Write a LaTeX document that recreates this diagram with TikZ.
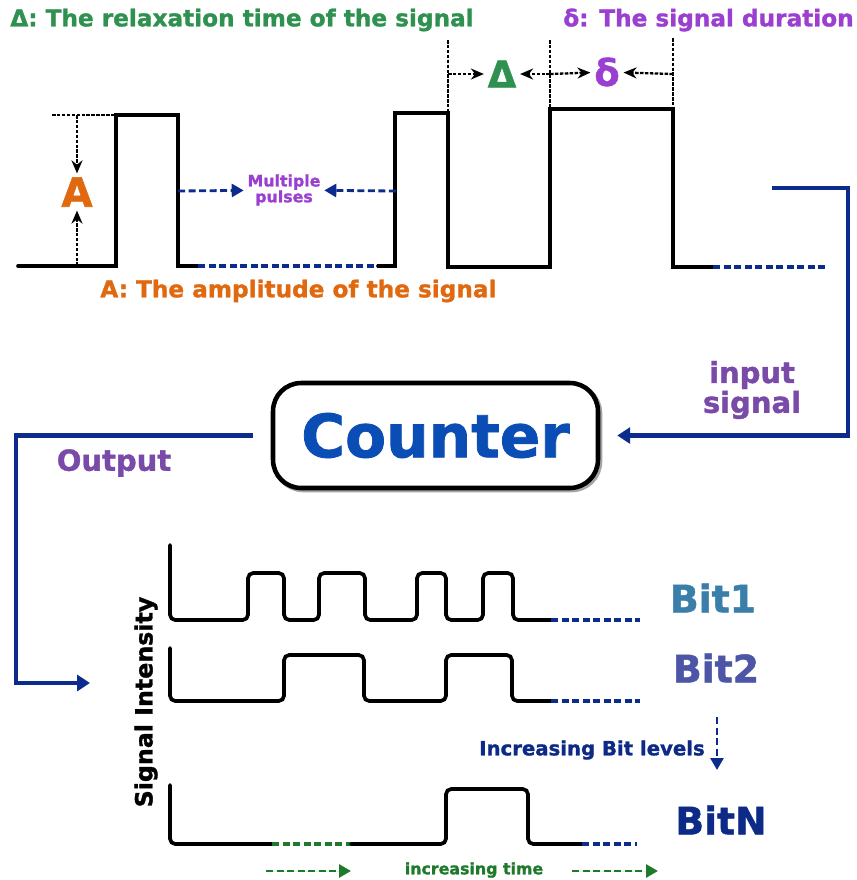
\documentclass[tikz,border=0pt]{standalone}
\usepackage{fontspec}
\setmainfont{DejaVu Sans}[BoldFeatures={FakeBold=1.3}]
\usepackage{xcolor}
\usetikzlibrary{positioning,arrows.meta,calc}
\definecolor{vertTitre}{HTML}{2E9150}
\definecolor{violetTitre}{HTML}{9A3FCF}
\definecolor{orangeAmp}{HTML}{E0690F}
\definecolor{bleuNuit}{HTML}{0B2C8C}
\definecolor{bleuCompteur}{HTML}{0A4DB5}
\definecolor{violetTexte}{HTML}{7A4AA8}
\definecolor{bleuBitUn}{HTML}{3A7FAA}
\definecolor{bleuBitDeux}{HTML}{4C55A6}
\definecolor{bleuBitN}{HTML}{0D2A87}
\definecolor{vertTemps}{HTML}{1E7A2A}
\tikzset{
  signal/.style={line width=2.1pt, line join=miter, line cap=round},
  signalRond/.style={signal, rounded corners=3pt},
  cote/.style={line width=1.3pt, dash pattern=on 2pt off 0.8pt},
  coteFleche/.style={cote, -{Stealth[length=2.6mm, width=2.2mm]}},
  suite/.style={line width=2.1pt, draw=bleuNuit, dash pattern=on 4pt off 2pt},
  suiteVerte/.style={suite, draw=vertTemps},
  suiteFleche/.style={suite, line width=1.6pt, -{Triangle[length=2.4mm, width=2.6mm]}},
  suiteFlecheVerte/.style={suiteFleche, draw=vertTemps, fill=vertTemps},
  liaison/.style={line width=2.6pt, draw=bleuNuit, line join=miter,
    -{Triangle[length=2.6mm, width=3.2mm]}},
  compteur/.style={
    rectangle, rounded corners=16pt, draw=black, line width=2.6pt, fill=white,
    minimum width=6.5cm, minimum height=2.1cm, text=bleuCompteur,
    font=\bfseries\fontsize{34}{40}\selectfont},
  ombre/.style={rectangle, rounded corners=16pt, draw=black!35, line width=2.6pt,
    minimum width=6.5cm, minimum height=2.1cm},
  titre/.style={font=\bfseries\fontsize{13.2}{15}\selectfont, inner sep=0pt, anchor=west},
  symbole/.style={font=\bfseries\fontsize{21}{24}\selectfont, inner sep=2pt},
  etiquette/.style={font=\bfseries\fontsize{16.5}{15}\selectfont, text=violetTexte,
    align=center, inner sep=1pt},
  petit/.style={font=\bfseries\fontsize{9}{9}\selectfont, align=center, inner sep=2pt},
  bit/.style={font=\bfseries\fontsize{21.5}{24}\selectfont, inner sep=0pt}
}
\begin{document}
\begin{tikzpicture}[x=0.02cm, y=-0.02cm]
  \useasboundingbox (0,0) rectangle (857,880);

  % --- Titres du haut
  \node[titre, text=vertTitre]   (TR) at ( 10, 20) {Δ: The relaxation time of the signal};
  \node[titre, text=violetTitre] (TD) at (563, 20) {δ: The signal duration};
  \node[titre, text=orangeAmp]   (TA) at (100,291) {A: The amplitude of the signal};

  % --- Signal d'entree
  \draw[signal] (18,266) -- (116,266) -- (116,115) -- (178,115) -- (178,266) -- (198,266);
  \draw[suite]  (198,266) -- (378,266);
  \draw[signal] (378,266) -- (395,266) -- (395,113) -- (448,113) -- (448,267)
        -- (550,267) -- (550,109) -- (673,109) -- (673,267) -- (713,267);
  \draw[suite]  (713,267) -- (828,267);

  % --- Amplitude
  \node[symbole, text=orangeAmp, font=\bfseries\fontsize{23}{26}\selectfont] (A) at (77,192) {A};
  \draw[cote] (52,115) -- (116,115);
  \draw[coteFleche] (77,115) -- (A);
  \draw[coteFleche] (77,266) -- (A);

  % --- Relaxation et duree
  \draw[cote] (448,40) -- (448,113);
  \draw[cote] (550,40) -- (550,109);
  \draw[cote] (673,38) -- (673,109);
  \node[symbole, text=vertTitre]   (D) at (502,74) {Δ};
  \node[symbole, text=violetTitre] (d) at (607,72) {δ};
  \draw[coteFleche] (448,74) -- (D);
  \draw[coteFleche] (550,74) -- (D);
  \draw[coteFleche] (550,74) -- (d);
  \draw[coteFleche] (673,74) -- (d);

  % --- Impulsions multiples
  \node[petit, text=violetTitre] (M) at (284,190) {Multiple\\pulses};
  \draw[suiteFleche] (178,191) -- (M);
  \draw[suiteFleche] (396,191) -- (M);

  % --- Compteur
  \node[ombre] at (437.5,437.5) {};
  \node[compteur] (C) at (435.5,435.5) {Counter};
  \coordinate (In)  at (772,188);
  \coordinate (Out) at (90,683);
  \node[etiquette] (IS) at (752,390) {input\\signal};
  \node[etiquette] (O)  at (114,463) {Output};
  \draw[liaison, shorten >=0.34cm] (In) -- (848,188) |- (C.east);
  \draw[liaison, shorten <=0.36cm] (C.west) -| (16,683) -- (Out);

  % --- Sorties par bit
  \node[font=\bfseries\fontsize{13.5}{14}\selectfont, rotate=90] (SI) at (146,702) {Signal Intensity};
  \draw[signalRond] (170,545) -- (170,620) -- (248,620) -- (248,573) -- (284,573) -- (284,620)
        -- (319,620) -- (319,573) -- (365,573) -- (365,620) -- (417,620) -- (417,573)
        -- (446,573) -- (446,620) -- (483,620) -- (483,573) -- (513,573) -- (513,620) -- (551,620);
  \draw[suite] (551,620) -- (640,620);
  \draw[signalRond] (170,648) -- (170,701) -- (284,701) -- (284,655) -- (364,655) -- (364,701)
        -- (446,701) -- (446,655) -- (512,655) -- (512,701) -- (551,701);
  \draw[suite] (551,701) -- (640,701);
  \draw[signalRond] (170,785) -- (170,844) -- (272,844);
  \draw[suiteVerte] (272,844) -- (351,844);
  \draw[signalRond] (351,844) -- (446,844) -- (446,789) -- (528,789) -- (528,844) -- (582,844);
  \draw[suite] (582,844) -- (637,844);

  \node[bit, text=bleuBitUn]   (B1) at (713,598) {Bit1};
  \node[bit, text=bleuBitDeux] (B2) at (716,668) {Bit2};
  \node[bit, text=bleuBitN]    (BN) at (721,820) {BitN};

  % --- Sens de lecture
  \coordinate (Haut) at (717,717);
  \coordinate (Bas)  at (717,770);
  \draw[suiteFleche] (Haut) -- (Bas);
  \node[petit, text=bleuBitN, font=\bfseries\fontsize{11.2}{12}\selectfont] (IB) at (592,750) {Increasing Bit levels};
  \node[petit, text=vertTemps] (IT) at (474,870) {increasing time};
  \coordinate (T1) at (266,871);
  \coordinate (T2) at (351,871);
  \coordinate (T3) at (572,871);
  \coordinate (T4) at (658,871);
  \draw[suiteFlecheVerte] (T1) -- (T2);
  \draw[suiteFlecheVerte] (T3) -- (T4);

\end{tikzpicture}
\end{document}
